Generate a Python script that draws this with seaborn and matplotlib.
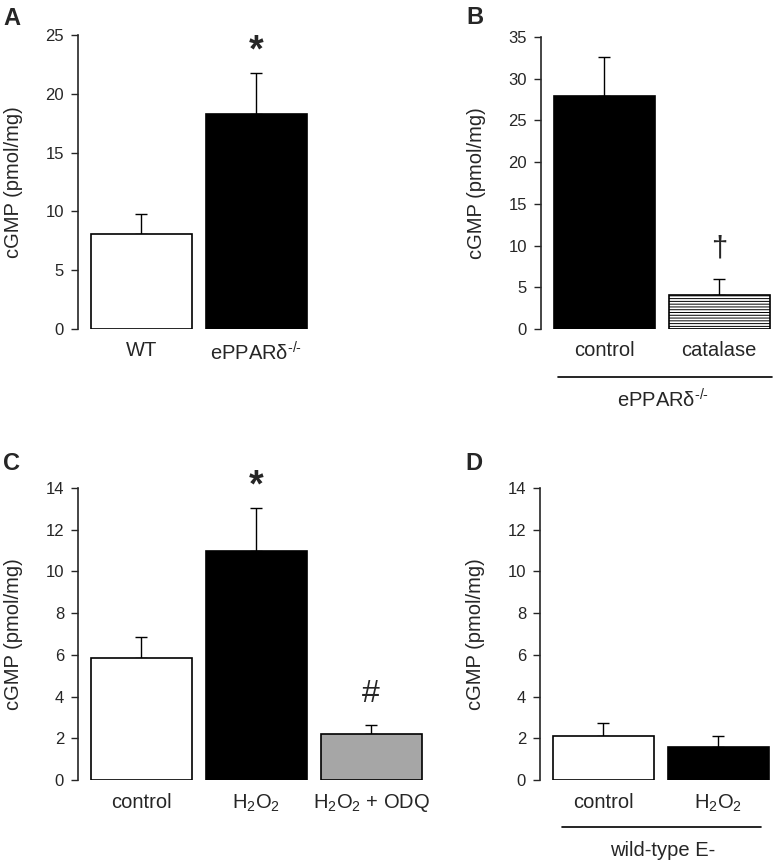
import matplotlib as mpl
import matplotlib.pyplot as plt
import numpy as np
import pandas as pd
import seaborn as sns

# values
a_groups = ['WT', 'ePPAR$\\delta^{\\text{-/-}}$']
a_mean = [8.1, 18.3]
a_sem = [1.7, 3.5]

b_groups = ['control', 'catalase']
b_mean = [27.9, 4.1]
b_sem = [4.7, 1.9]

c_groups = ['control', 'H$_2$O$_2$', 'H$_2$O$_2$ + ODQ']
c_mean = [5.85, 11.0, 2.2]
c_sem = [1.0, 2.05, 0.44]

d_groups = ['control', 'H$_2$O$_2$']
d_mean = [2.11, 1.58]
d_sem = [0.62, 0.53]

sns.set_style('ticks')
plt.rcParams['font.family'] = ['Liberation Sans', 'DejaVu Sans']
plt.rcParams['mathtext.fontset'] = 'custom'
plt.rcParams['mathtext.rm'] = 'Liberation Sans'
plt.rcParams['mathtext.it'] = 'Liberation Sans'
plt.rcParams['mathtext.default'] = 'regular'
plt.rcParams['hatch.linewidth'] = 0.7

W, H = 776, 864
fig = plt.figure(figsize=(W / 100, H / 100), dpi=100)


def panel(left, base, height, groups, mean, sem, colors, ymax, ystep, letter, letter_y):
    n = len(groups)
    width = n * 115
    ax = fig.add_axes([left / W, (H - base) / H, width / W, height / H])
    df = pd.DataFrame({'group': groups, 'value': mean})
    sns.barplot(data=df, x='group', y='value', hue='group', palette=colors,
                width=0.88, edgecolor='black', linewidth=1.2, errorbar=None,
                legend=False, ax=ax, saturation=1)
    ax.errorbar(np.arange(n), mean, yerr=[np.zeros(n), sem], fmt='none',
                ecolor='black', elinewidth=1.0, capsize=4, capthick=1.0, zorder=0)
    ax.set_xlim(-0.55, n - 0.55)
    ax.set_ylim(0, ymax)
    ax.set_yticks(np.arange(0, ymax + 0.1, ystep))
    ax.tick_params(axis='y', labelsize=12, length=5, width=1, pad=5)
    ax.tick_params(axis='x', labelsize=14.5, length=0, pad=9)
    ax.set_xlabel('')
    ax.set_ylabel('cGMP (pmol/mg)', fontsize=14.5)
    ax.yaxis.set_label_coords(-55 / width, 0.5)
    sns.despine(ax=ax, bottom=True)
    ax.spines['left'].set_linewidth(1.2)
    fig.text((left - 75) / W, 1 - letter_y / H, letter,
             fontsize=17, fontweight='bold', ha='left', va='baseline')
    return ax


ax1 = panel(78, 329, 294, a_groups, a_mean, a_sem, ['white', 'black'], 25, 5, 'A', 25)
ax1.text(1, 23.6, '*', fontsize=27, fontweight='bold', ha='center', va='center')

ax2 = panel(541, 329, 292, b_groups, b_mean, b_sem, ['black', 'white'], 35, 5, 'B', 24)
ax2.patches[1].set_hatch('------')
ax2.text(1, 9.7, '†', fontsize=21, ha='center', va='center')
ax2.plot([0.074, 1.004], [-48 / 292, -48 / 292], color='black', lw=1.2,
         transform=ax2.transAxes, clip_on=False)
ax2.text(0.53, -71 / 292, 'ePPAR$\\delta^{\\text{-/-}}$', fontsize=14.5, ha='center',
         va='center', transform=ax2.transAxes)

ax3 = panel(78, 780, 292, c_groups, c_mean, c_sem, ['white', 'black', '#a6a6a6'], 14, 2, 'C', 470)
ax3.text(1, 14.05, '*', fontsize=27, fontweight='bold', ha='center', va='center')
ax3.text(2, 4.1, '#', fontsize=23, ha='center', va='center')

ax4 = panel(540, 780, 292, d_groups, d_mean, d_sem, ['white', 'black'], 14, 2, 'D', 470)
ax4.plot([22 / 230, 221 / 230], [-47 / 292, -47 / 292], color='black', lw=1.2,
         transform=ax4.transAxes, clip_on=False)
ax4.text(0.535, -70 / 292, 'wild-type E-', fontsize=14.5, ha='center',
         va='center', transform=ax4.transAxes)

fig.savefig('out.png', dpi=100)
